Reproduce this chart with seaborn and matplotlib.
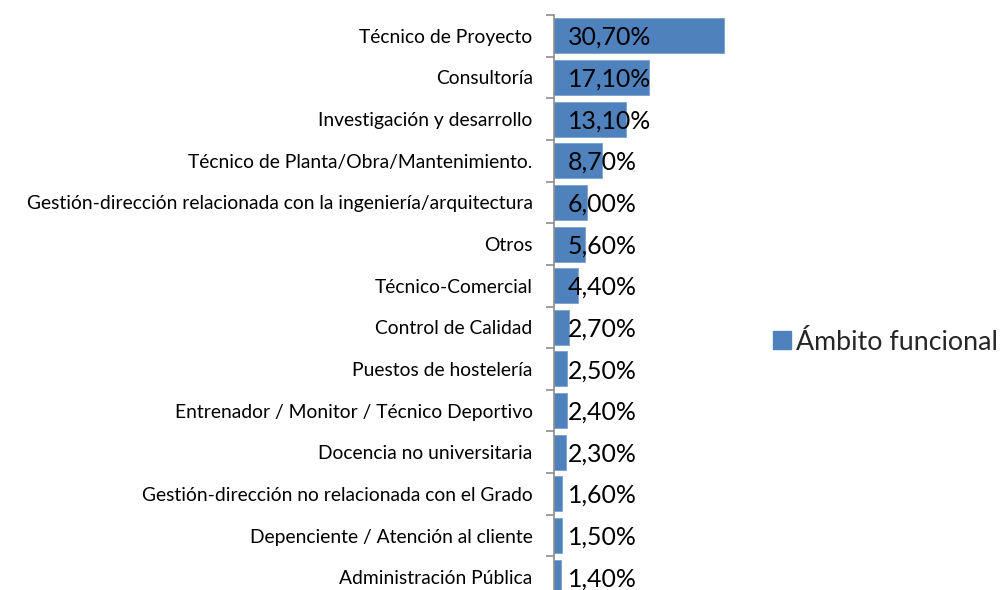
import matplotlib
matplotlib.use("Agg")
import matplotlib.pyplot as plt
import seaborn as sns
import pandas as pd
from matplotlib.patches import Patch
from matplotlib.ticker import FixedLocator

categories = [
    "Técnico de Proyecto",
    "Consultoría",
    "Investigación y desarrollo",
    "Técnico de Planta/Obra/Mantenimiento.",
    "Gestión-dirección relacionada con la ingeniería/arquitectura",
    "Otros",
    "Técnico-Comercial",
    "Control de Calidad",
    "Puestos de hostelería",
    "Entrenador / Monitor / Técnico Deportivo",
    "Docencia no universitaria",
    "Gestión-dirección no relacionada con el Grado",
    "Depenciente / Atención al cliente",
    "Administración Pública",
]
values = [30.7, 17.1, 13.1, 8.7, 6.0, 5.6, 4.4, 2.7, 2.5, 2.4, 2.3, 1.6, 1.5, 1.4]
labels = ["30,70%", "17,10%", "13,10%", "8,70%", "6,00%", "5,60%", "4,40%",
          "2,70%", "2,50%", "2,40%", "2,30%", "1,60%", "1,50%", "1,40%"]
series_name = "Ámbito funcional"

sns.set_theme(style="white")
plt.rcParams["font.family"] = ["Lato", "DejaVu Sans"]

df = pd.DataFrame({"cat": categories, "val": values})
W, H = 1008, 590
fig = plt.figure(figsize=(W / 100, H / 100), dpi=100)
left_px, right_px, top_px, bot_px = 553.5, 748.3, 15, 598
ax = fig.add_axes([left_px / W, 1 - bot_px / H, (right_px - left_px) / W, (bot_px - top_px) / H])

bar_color = "#4F81BD"
sns.barplot(data=df, x="val", y="cat", orient="h", color=bar_color, saturation=1,
            width=0.84, edgecolor="#7BA0CD", linewidth=0.6, ax=ax)

ax.set_xlim(0, 35)
ax.set_ylim(len(categories) - 0.5, -0.5)
ax.set_xlabel("")
ax.set_ylabel("")
ax.set_xticks([])
for s in ["top", "right", "bottom"]:
    ax.spines[s].set_visible(False)
ax.spines["left"].set_color("#8C8C8C")
ax.spines["left"].set_linewidth(1.2)

ax.yaxis.set_minor_locator(FixedLocator([i - 0.5 for i in range(len(categories) + 1)]))
ax.tick_params(axis="y", which="major", length=0, pad=15, labelsize=13.9, labelcolor="black")
ax.tick_params(axis="y", which="minor", length=6, width=1.2, color="#8C8C8C", left=True)

for i, lab in enumerate(labels):
    ax.annotate(lab, xy=(0, i), xytext=(10.4, -1.2), textcoords="offset points",
                ha="left", va="center", fontsize=17.9, color="black", clip_on=False)

handle = Patch(facecolor=bar_color, edgecolor=bar_color)
fig.legend(handles=[handle], labels=[series_name], loc="center left",
           bbox_to_anchor=(762 / W, 1 - 342 / H), frameon=False, fontsize=19.3,
           handlelength=0.68, handleheight=0.68, handletextpad=0.2, borderaxespad=0)

fig.savefig("out.png", dpi=100)
